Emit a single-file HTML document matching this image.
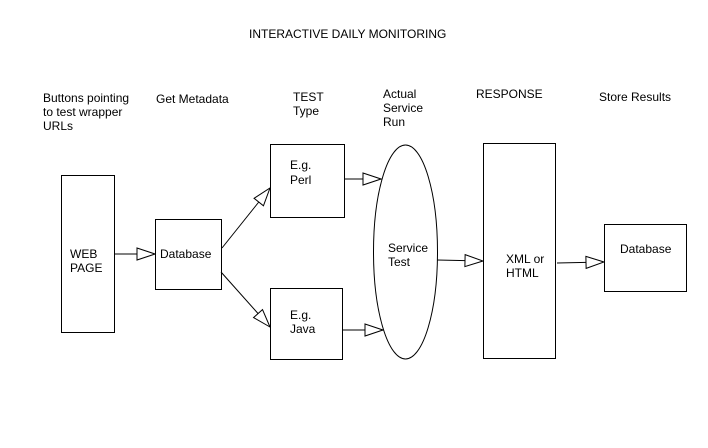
<!DOCTYPE html>
<html><head><meta charset="utf-8"><style>
html,body{margin:0;padding:0;background:#fff;}
svg{display:block;}
text{font-family:"Liberation Sans",Arial,sans-serif;font-size:12px;fill:#000;}
</style></head><body>
<svg width="708" height="448" viewBox="0 0 708 448" xmlns="http://www.w3.org/2000/svg">
<defs>
<marker id="a" markerWidth="20" markerHeight="14" refX="19" refY="7" orient="auto" markerUnits="userSpaceOnUse">
<path d="M1,1 L19,7 L1,13 Z" fill="#fff" stroke="#000" stroke-width="1"/>
</marker>
</defs>
<text x="249" y="38">INTERACTIVE DAILY MONITORING</text>
<text x="43" y="102">Buttons pointing</text>
<text x="43" y="116">to test wrapper</text>
<text x="43" y="130">URLs</text>
<text x="156" y="103">Get Metadata</text>
<text x="293" y="101">TEST</text>
<text x="293" y="115">Type</text>
<text x="383" y="98">Actual</text>
<text x="383" y="112">Service</text>
<text x="383" y="126">Run</text>
<text x="476" y="98">RESPONSE</text>
<text x="599" y="101">Store Results</text>
<g fill="#fff" stroke="#000" stroke-width="1">
<rect x="61.5" y="175.5" width="53" height="157"/>
<rect x="155.5" y="219.5" width="66" height="70"/>
<rect x="270.5" y="144.5" width="74" height="73"/>
<rect x="270.5" y="288.5" width="72" height="71"/>
<ellipse cx="405.5" cy="252" rx="32" ry="107"/>
<rect x="483.5" y="143.5" width="72" height="215"/>
<rect x="604.5" y="224.5" width="82" height="67"/>
</g>
<g stroke="#000" stroke-width="1" fill="none" marker-end="url(#a)">
<line x1="114" y1="254" x2="155" y2="254"/>
<line x1="222" y1="248" x2="270" y2="188"/>
<line x1="221" y1="272" x2="270" y2="327"/>
<line x1="344" y1="179" x2="381" y2="179"/>
<line x1="342" y1="330" x2="383" y2="330"/>
<line x1="437" y1="260" x2="483" y2="261"/>
<line x1="557" y1="263" x2="604" y2="262"/>
</g>
<text x="70" y="258">WEB</text>
<text x="70" y="272">PAGE</text>
<text x="160" y="258">Database</text>
<text x="290" y="169">E.g.</text>
<text x="290" y="184">Perl</text>
<text x="290" y="319">E.g.</text>
<text x="290" y="333">Java</text>
<text x="388" y="252">Service</text>
<text x="388" y="266">Test</text>
<text x="506" y="263">XML or</text>
<text x="506" y="277">HTML</text>
<text x="620" y="253">Database</text>
</svg>
</body></html>
